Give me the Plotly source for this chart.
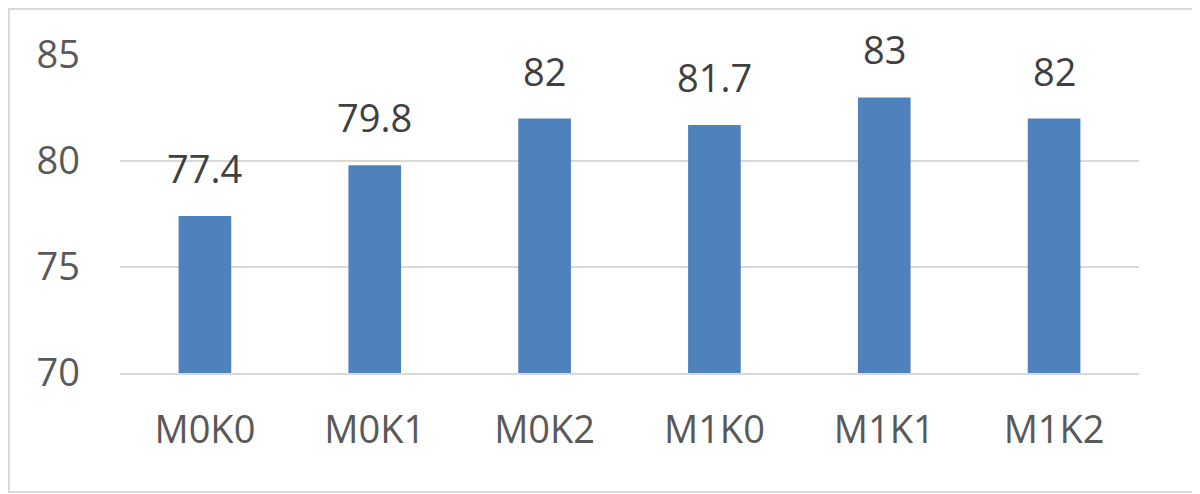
import plotly.graph_objects as go

categories = ["M0K0", "M0K1", "M0K2", "M1K0", "M1K1", "M1K2"]
values = [77.4, 79.8, 82, 81.7, 83, 82]
labels = ["77.4", "79.8", "82", "81.7", "83", "82"]
y_ticks = [70, 75, 80, 85]

# page body has an 8px margin; compensate
W, H = 1192, 486
ml, mr, mt, mb = 112, 61, 47, 121

fig = go.Figure()
fig.add_trace(go.Bar(
    x=categories, y=values,
    marker=dict(color="#4f81bd", line=dict(width=0)),
    width=0.31,
))

for c, v, t in zip(categories, values, labels):
    fig.add_annotation(x=c, y=v, text=t, showarrow=False, yanchor="bottom",
                       yshift=20, font=dict(family="Open Sans", size=38, color="#404040"))

pw = W - ml - mr
ph = H - mt - mb
fig.add_shape(type="rect", xref="paper", yref="paper",
              x0=(1 - ml) / pw, x1=(W - 4 - ml) / pw,
              y0=-(mb - 2) / ph, y1=1 + (mt - 1) / ph,
              line=dict(color="#d9d9d9", width=2), layer="below")

fig.update_layout(
    width=W, height=H,
    margin=dict(l=ml, r=mr, t=mt, b=mb),
    paper_bgcolor="white", plot_bgcolor="white",
    showlegend=False,
)
fig.update_yaxes(range=[70, 85], tickvals=y_ticks, showgrid=True, gridcolor="#d9d9d9",
                 gridwidth=2, zeroline=False, showline=False,
                 tickfont=dict(family="Open Sans", size=38, color="#595959"),
                 ticklabelstandoff=39)
fig.update_xaxes(showline=True, linecolor="#d9d9d9", linewidth=2, showgrid=False,
                 tickfont=dict(family="Open Sans", size=38, color="#595959"),
                 ticklabelstandoff=22)

fig.write_html("out.html")
